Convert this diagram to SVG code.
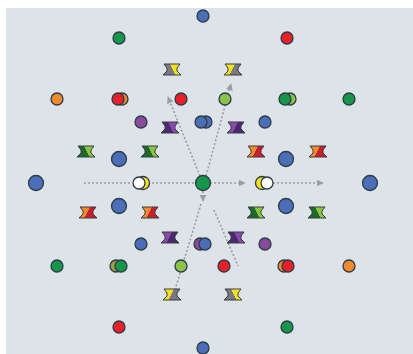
<svg xmlns="http://www.w3.org/2000/svg" xmlns:xlink="http://www.w3.org/1999/xlink" width="413" height="354" viewBox="0 0 413 354">
<style>
circle{stroke:#2e3a48;stroke-width:1.3}
.b{fill:#4a6fb8}.g{fill:#16964a}.r{fill:#e8202a}.o{fill:#ef8a2e}.p{fill:#8a4a9c}.lg{fill:#8cc24a}.y{fill:#f2e21e}.w{fill:#ffffff}.ol{fill:#9aa040}
.bt{stroke:#3a3a44;stroke-width:1}
.con line{stroke:#9a9ea4;stroke-width:1.6;stroke-dasharray:2 2;fill:none}
</style>
<defs>
<marker id="ah" viewBox="0 0 10 10" refX="9" refY="5" markerWidth="7" markerHeight="7" orient="auto" markerUnits="userSpaceOnUse">
<path d="M0,0 L10,5 L0,10 z" fill="#9a9ea4"/>
</marker>
<linearGradient id="gY" x1="0" y1="0.3" x2="1" y2="0"><stop offset="0.45" stop-color="#7a7880"/><stop offset="0.45" stop-color="#f2e21e"/></linearGradient>
<linearGradient id="gP" x1="0" y1="0.3" x2="1" y2="0"><stop offset="0.45" stop-color="#4a2a6c"/><stop offset="0.45" stop-color="#8a4aac"/></linearGradient>
<linearGradient id="gG" x1="0" y1="0.3" x2="1" y2="0"><stop offset="0.45" stop-color="#1e6a2a"/><stop offset="0.45" stop-color="#8cc43c"/></linearGradient>
<linearGradient id="gO" x1="0" y1="0.3" x2="1" y2="0"><stop offset="0.45" stop-color="#c8202a"/><stop offset="0.45" stop-color="#f08a2a"/></linearGradient>
<path id="bt" class="bt" d="M-8,-6 L8,-6 L5,-2 L5,1 L9,5 L-9,5 L-5,1 L-5,-2 Z"/>
</defs>
<rect x="0" y="0" width="413" height="354" fill="#ffffff"/>
<rect x="6" y="8" width="407" height="346" fill="#dde4e8"/>
<g class="con">
<line x1="84" y1="183" x2="132" y2="183"/>
<line x1="148" y1="183" x2="196" y2="183"/>
<line x1="210" y1="183" x2="245" y2="183" marker-end="url(#ah)"/>
<line x1="273" y1="183" x2="323" y2="183" marker-end="url(#ah)"/>
<line x1="200" y1="176" x2="168" y2="97" marker-end="url(#ah)"/>
<line x1="206" y1="176" x2="231" y2="84" marker-end="url(#ah)"/>
<line x1="203" y1="191" x2="203" y2="201" marker-end="url(#ah)"/>
<line x1="201" y1="204" x2="175" y2="290"/>
<line x1="214" y1="210" x2="238" y2="266"/>
</g>
<g id="bowties">
<use id="bt1" xlink:href="#bt" transform="translate(172,70)" fill="url(#gY)"/>
<use id="bt2" xlink:href="#bt" transform="translate(233,70) scale(-1,1)" fill="url(#gY)"/>
<use id="bt3" xlink:href="#bt" transform="translate(170,128)" fill="url(#gP)"/>
<use id="bt4" xlink:href="#bt" transform="translate(236,128) scale(-1,1)" fill="url(#gP)"/>
<use id="bt5" xlink:href="#bt" transform="translate(86,152)" fill="url(#gG)"/>
<use id="bt6" xlink:href="#bt" transform="translate(150,152)" fill="url(#gG)"/>
<use id="bt7" xlink:href="#bt" transform="translate(256,152) scale(-1,1)" fill="url(#gO)"/>
<use id="bt8" xlink:href="#bt" transform="translate(318,152) scale(-1,1)" fill="url(#gO)"/>
<use id="bt9" xlink:href="#bt" transform="translate(88,213) scale(-1,1)" fill="url(#gO)"/>
<use id="bt10" xlink:href="#bt" transform="translate(150,213) scale(-1,1)" fill="url(#gO)"/>
<use id="bt11" xlink:href="#bt" transform="translate(256,213)" fill="url(#gG)"/>
<use id="bt12" xlink:href="#bt" transform="translate(317,213)" fill="url(#gG)"/>
<use id="bt13" xlink:href="#bt" transform="translate(170,238) scale(-1,1)" fill="url(#gP)"/>
<use id="bt14" xlink:href="#bt" transform="translate(236,238)" fill="url(#gP)"/>
<use id="bt15" xlink:href="#bt" transform="translate(172,295) scale(-1,1)" fill="url(#gY)"/>
<use id="bt16" xlink:href="#bt" transform="translate(233,295)" fill="url(#gY)"/>
</g>
<g id="dots">
<circle class="b" cx="203" cy="16" r="6"/>
<circle class="b" cx="203" cy="348" r="6"/>
<circle class="b" cx="36" cy="183" r="7.5"/>
<circle class="b" cx="370" cy="183" r="7.5"/>
<circle class="g" cx="119" cy="38" r="6"/>
<circle class="r" cx="287" cy="38" r="6"/>
<circle class="o" cx="57" cy="99" r="6"/>
<circle class="o" cx="122" cy="99" r="6"/>
<circle class="r" cx="118" cy="99" r="6"/>
<circle class="r" cx="181" cy="99" r="6"/>
<circle class="lg" cx="225" cy="99" r="6"/>
<circle class="lg" cx="290" cy="99" r="6"/>
<circle class="g" cx="285" cy="99" r="6"/>
<circle class="g" cx="349" cy="99" r="6"/>
<circle class="p" cx="141" cy="122" r="6"/>
<circle class="b" cx="206" cy="122" r="6"/>
<circle class="b" cx="201" cy="122" r="6"/>
<circle class="b" cx="265" cy="122" r="6"/>
<circle class="b" cx="119" cy="159" r="7.5"/>
<circle class="b" cx="286" cy="159" r="7.5"/>
<circle class="y" cx="143" cy="183" r="6.5"/>
<circle class="w" cx="139" cy="183" r="6"/>
<circle class="g" cx="203" cy="183" r="7.5"/>
<circle class="y" cx="262" cy="183" r="6.5"/>
<circle class="w" cx="267" cy="183" r="6"/>
<circle class="b" cx="119" cy="206" r="7.5"/>
<circle class="b" cx="286" cy="206" r="7.5"/>
<circle class="b" cx="141" cy="244" r="6"/>
<circle class="p" cx="200" cy="244" r="6"/>
<circle class="b" cx="205" cy="244" r="6"/>
<circle class="p" cx="265" cy="244" r="6"/>
<circle class="g" cx="57" cy="266" r="6"/>
<circle class="ol" cx="116" cy="266" r="6"/>
<circle class="g" cx="121" cy="266" r="6"/>
<circle class="lg" cx="181" cy="266" r="6"/>
<circle class="r" cx="224" cy="266" r="6"/>
<circle class="o" cx="284" cy="266" r="6"/>
<circle class="r" cx="288" cy="266" r="6"/>
<circle class="o" cx="349" cy="266" r="6"/>
<circle class="r" cx="119" cy="327" r="6"/>
<circle class="g" cx="287" cy="327" r="6"/>
</g>
</svg>
